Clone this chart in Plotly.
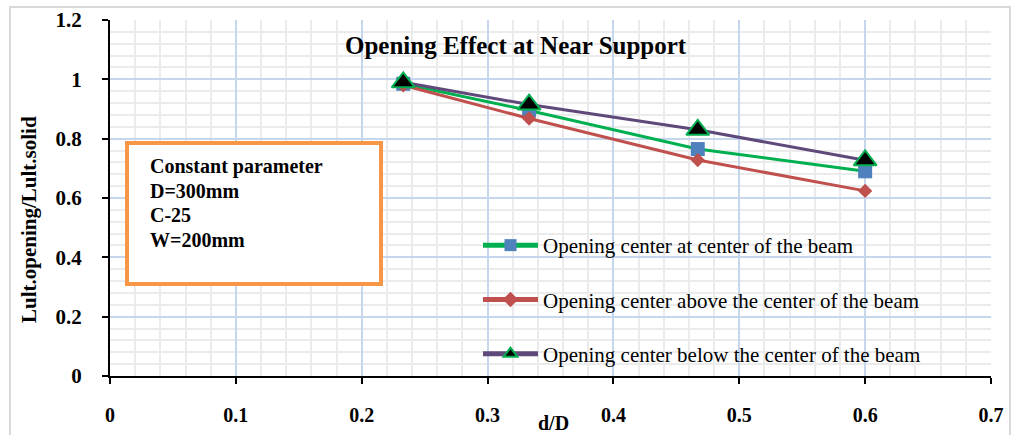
import plotly.graph_objects as go

# Data
d_over_D = [0.233, 0.333, 0.467, 0.6]
center = [0.985, 0.895, 0.765, 0.69]
above = [0.98, 0.868, 0.728, 0.624]
below = [0.99, 0.915, 0.83, 0.727]
names = ["Opening center at center of the beam",
         "Opening center above the center of the beam",
         "Opening center below the center of the beam"]
x_ticks = [0, 0.1, 0.2, 0.3, 0.4, 0.5, 0.6, 0.7]
x_tick_text = ["0", "0.1", "0.2", "0.3", "0.4", "0.5", "0.6", "0.7"]
y_ticks = [0, 0.2, 0.4, 0.6, 0.8, 1.0, 1.2]
y_tick_text = ["0", "0.2", "0.4", "0.6", "0.8", "1", "1.2"]
box_lines = ["Constant parameter", "D=300mm", "C-25", "W=200mm"]

W, H = 1015, 435
L, R, T, B = 110, 24, 20, 59
PW, PH = W - L - R, H - T - B
SERIF = "Liberation Serif, Times New Roman, serif"


def px(xp):
    return (xp - L) / PW


def py(yp):
    return 1 - (yp - T) / PH


fig = go.Figure()
fig.add_trace(go.Scatter(
    x=d_over_D, y=center, name=names[0], legendgroup="a", mode="lines+markers",
    line=dict(color="#00b050", width=3),
    marker=dict(symbol="square", size=14, color="#4f81bd")))
fig.add_trace(go.Scatter(
    x=d_over_D, y=above, name=names[1], legendgroup="b", mode="lines+markers",
    line=dict(color="#c0504d", width=3),
    marker=dict(symbol="diamond", size=11, color="#c0504d")))
fig.add_trace(go.Scatter(
    x=d_over_D, y=below, name=names[2], legendgroup="c", mode="lines+markers",
    line=dict(color="#5f497a", width=3),
    marker=dict(symbol="triangle-up", size=20, color="black",
                line=dict(color="#00b050", width=2))))

annotations = [
    dict(text="<b>Opening Effect at Near Support</b>", x=px(516), y=py(45),
         font=dict(size=25, family=SERIF)),
    dict(text="<b>Lult.opening/Lult.solid</b>", x=px(29), y=py(220), textangle=-90,
         font=dict(size=21, family=SERIF)),
    dict(text="<b>d/D</b>", x=px(553), y=py(423),
         font=dict(size=20, family=SERIF)),
]
for i, line in enumerate(box_lines):
    annotations.append(dict(text="<b>%s</b>" % line, x=px(148), y=py(166 + 24.5 * i),
                            xanchor="left", font=dict(size=20, family=SERIF)))
for a in annotations:
    a.update(xref="paper", yref="paper", showarrow=False)
    a.setdefault("xanchor", "center")
    a.setdefault("yanchor", "middle")

fig.update_layout(
    width=W, height=H,
    margin=dict(l=L, r=R, t=T, b=B, autoexpand=False),
    paper_bgcolor="white", plot_bgcolor="white",
    font=dict(family=SERIF, color="black"),
    showlegend=True,
    legend=dict(x=px(478), y=py(225), xanchor="left", yanchor="top",
                bgcolor="rgba(0,0,0,0)", font=dict(size=21, family=SERIF),
                tracegroupgap=24, itemwidth=55, itemsizing="constant"),
    annotations=annotations,
    shapes=[
        dict(type="rect", xref="paper", yref="paper",
             x0=px(127), x1=px(381), y0=py(284), y1=py(143),
             line=dict(color="#f79646", width=4), fillcolor="white", layer="above"),
        dict(type="rect", xref="paper", yref="paper",
             x0=px(10), x1=px(1010), y0=py(445), y1=py(7),
             line=dict(color="#d9d9d9", width=2), layer="below"),
    ],
)

fig.update_xaxes(
    range=[0, 0.7], tickvals=x_ticks, ticktext=x_tick_text,
    showgrid=True, gridcolor="#c6d6ec", gridwidth=1.5,
    minor=dict(dtick=0.02, showgrid=True, gridcolor="#ebebeb", gridwidth=1.5, ticks=""),
    showline=True, linecolor="black", linewidth=2,
    ticks="outside", ticklen=6, tickwidth=2, tickcolor="black",
    tickfont=dict(size=20, family=SERIF, weight="bold"), ticklabelstandoff=14,
    zeroline=False)
fig.update_yaxes(
    range=[0, 1.2], tickvals=y_ticks, ticktext=y_tick_text,
    showgrid=True, gridcolor="#c6d6ec", gridwidth=1.5,
    minor=dict(dtick=0.04, showgrid=True, gridcolor="#ebebeb", gridwidth=1.5, ticks=""),
    showline=True, linecolor="black", linewidth=2,
    ticks="outside", ticklen=6, tickwidth=2, tickcolor="black",
    tickfont=dict(size=21, family=SERIF, weight="bold"), ticklabelstandoff=16,
    zeroline=False)

fig.write_html("out.html", config={"displayModeBar": False},
               post_script="document.body.style.margin='0';")
